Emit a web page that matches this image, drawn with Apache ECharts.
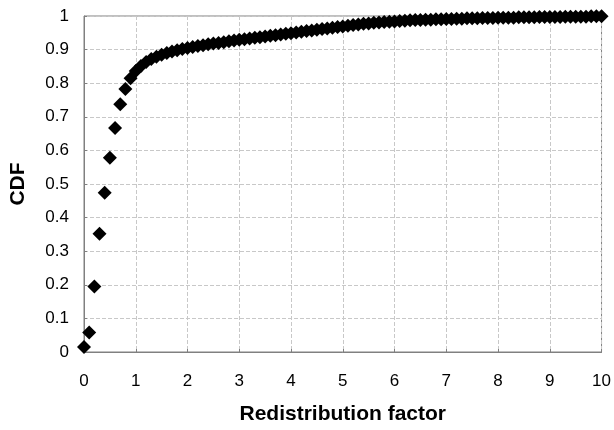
<!DOCTYPE html>
<html>
<head>
<meta charset="utf-8">
<script src="https://cdn.jsdelivr.net/npm/echarts@6/dist/echarts.min.js"></script>
<style>html,body{margin:0;padding:0;background:#fff}#c{width:614px;height:430px}</style>
</head>
<body>
<div id="c"></div>
<script>
var xValues = [0,0.1,0.2,0.3,0.4,0.5,0.6,0.7,0.8,0.9,
1.0,1.1,1.2,1.3,1.4,1.5,1.6,1.7,1.8,1.9,
2.0,2.1,2.2,2.3,2.4,2.5,2.6,2.7,2.8,2.9,
3.0,3.1,3.2,3.3,3.4,3.5,3.6,3.7,3.8,3.9,
4.0,4.1,4.2,4.3,4.4,4.5,4.6,4.7,4.8,4.9,
5.0,5.1,5.2,5.3,5.4,5.5,5.6,5.7,5.8,5.9,
6.0,6.1,6.2,6.3,6.4,6.5,6.6,6.7,6.8,6.9,
7.0,7.1,7.2,7.3,7.4,7.5,7.6,7.7,7.8,7.9,
8.0,8.1,8.2,8.3,8.4,8.5,8.6,8.7,8.8,8.9,
9.0,9.1,9.2,9.3,9.4,9.5,9.6,9.7,9.8,9.9,10];
var cdfValues = [0.015,0.058,0.195,0.352,0.474,0.578,0.667,0.737,0.783,0.815,
0.836,0.851,0.863,0.872,0.879,0.885,0.890,0.894,0.898,0.902,
0.905,0.908,0.911,0.913,0.916,0.918,0.920,0.922,0.925,0.927,
0.929,0.931,0.933,0.935,0.937,0.939,0.941,0.943,0.945,0.947,
0.949,0.951,0.953,0.955,0.957,0.959,0.961,0.963,0.965,0.967,
0.969,0.971,0.973,0.975,0.977,0.978,0.980,0.981,0.982,0.983,
0.984,0.985,0.986,0.987,0.988,0.988,0.989,0.989,0.990,0.990,
0.991,0.991,0.992,0.992,0.993,0.993,0.993,0.994,0.994,0.994,
0.995,0.995,0.995,0.995,0.996,0.996,0.996,0.996,0.997,0.997,
0.997,0.997,0.997,0.998,0.998,0.998,0.998,0.998,0.999,0.999,0.999];
var xTitle = 'Redistribution factor';
var yTitle = 'CDF';

var pts = xValues.map(function(x, i){ return [x, cdfValues[i]]; });
var chart = echarts.init(document.getElementById('c'), null, {renderer:'canvas'});
var font = 'Liberation Sans, Arial, sans-serif';
chart.setOption({
  animation:false,
  backgroundColor:'#fff',
  grid:{left:81, right:11, top:16, bottom:76, show:true, borderColor:'#808080', borderWidth:1},
  xAxis:{
    type:'value', min:0, max:10, interval:1,
    name:xTitle, nameLocation:'middle', nameGap:52,
    nameTextStyle:{fontFamily:font, fontWeight:'bold', fontSize:21, color:'#000'},
    axisLine:{show:true, lineStyle:{color:'#808080', width:1}},
    axisTick:{show:true, inside:true, length:3, lineStyle:{color:'#808080'}},
    axisLabel:{fontFamily:font, fontSize:17, color:'#000', margin:21},
    splitLine:{show:true, lineStyle:{color:'#c8c8c8', type:'dashed', width:1}}
  },
  yAxis:{
    type:'value', min:0, max:1, interval:0.1,
    name:yTitle, nameLocation:'middle', nameGap:55, nameRotate:90,
    nameTextStyle:{fontFamily:font, fontWeight:'bold', fontSize:21, color:'#000'},
    axisLine:{show:true, lineStyle:{color:'#808080', width:1}},
    axisTick:{show:true, inside:true, length:3, lineStyle:{color:'#808080'}},
    axisLabel:{fontFamily:font, fontSize:17, color:'#000', margin:15,
      formatter:function(v){ return String(Math.round(v*10)/10); }},
    splitLine:{show:true, lineStyle:{color:'#c8c8c8', type:'dashed', width:1}}
  },
  series:[{
    type:'scatter',
    data:pts,
    symbol:'diamond',
    symbolSize:[14,14],
    itemStyle:{color:'#000', opacity:1},
    clip:false
  }]
});
</script>
</body>
</html>
